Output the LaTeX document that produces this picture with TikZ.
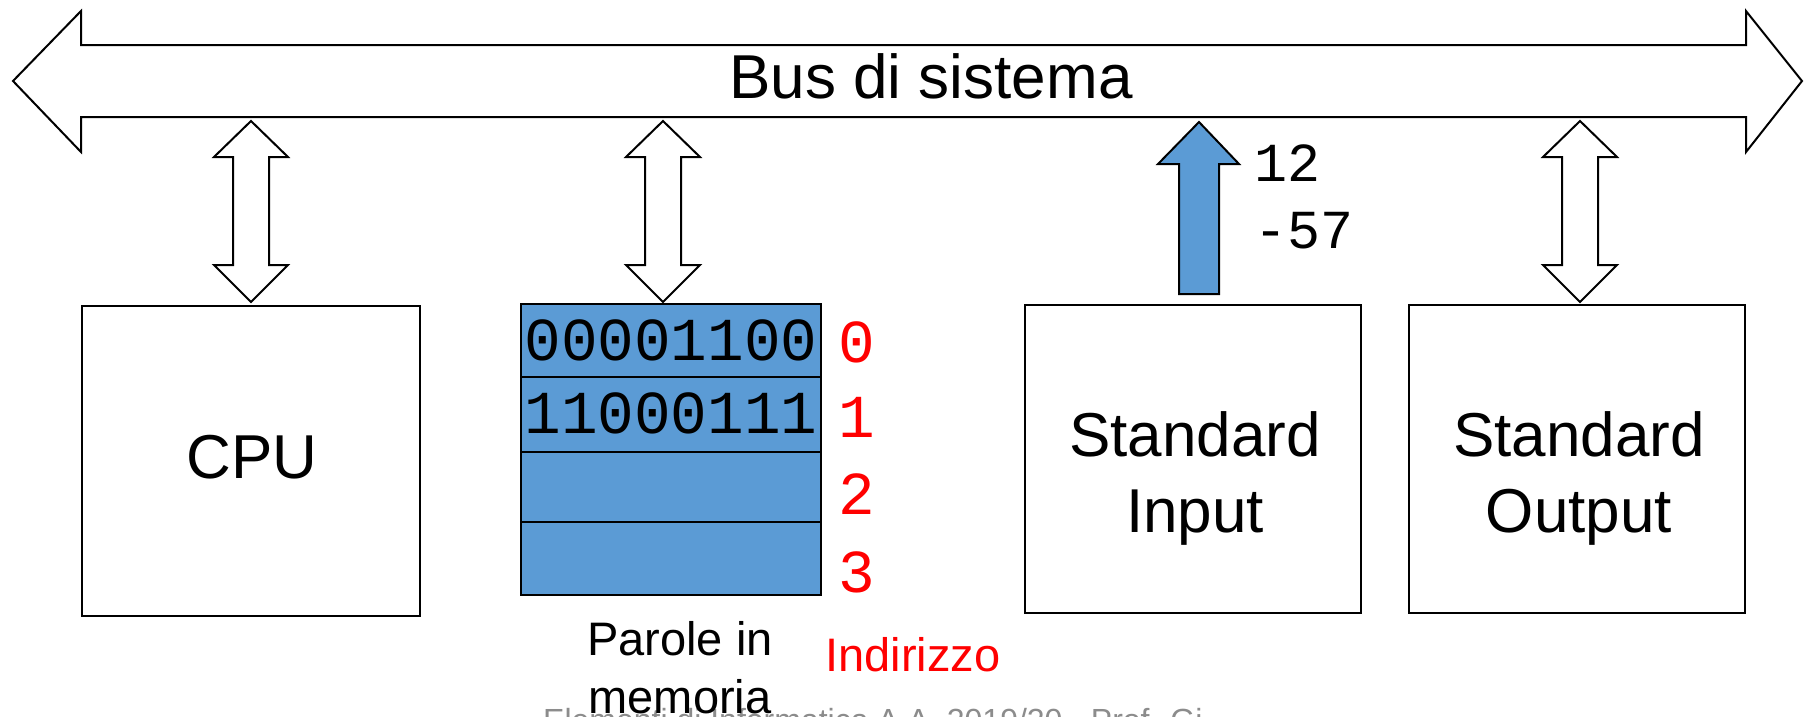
\documentclass[tikz,border=0pt]{standalone}
\usepackage{fontspec}
\setmainfont{Liberation Sans}
\newfontfamily\codefont{Liberation Mono}
\usetikzlibrary{calc}
\definecolor{memblue}{RGB}{91,155,213}
\definecolor{addrred}{RGB}{255,0,0}
\definecolor{footgray}{RGB}{140,140,140}

\tikzset{
  outline/.style={draw=black, line width=2pt, line join=miter},
  unitbox/.style={outline, fill=white, inner sep=0pt},
  memrow/.style={outline, fill=memblue, minimum width=300, inner sep=0pt},
  bigtext/.style={inner sep=0pt, font=\fontsize{62}{76}\selectfont},
  smalltext/.style={inner sep=0pt, font=\fontsize{47}{58}\selectfont},
  bits/.style={inner sep=0pt, font=\codefont\fontsize{61}{61}\selectfont},
  addr/.style={inner sep=0pt, text=addrred, font=\codefont\fontsize{61}{61}\selectfont},
  datum/.style={inner sep=0pt, font=\codefont\fontsize{55}{55}\selectfont},
  footer/.style={inner sep=0pt, text=footgray, font=\fontsize{32}{38}\selectfont},
  pics/dblarrow/.style={code={
    \draw[outline, fill=white] (0,0) -- (37,36) -- (18,36) -- (18,144) -- (37,144)
      -- (0,181) -- (-37,144) -- (-18,144) -- (-18,36) -- (-37,36) -- cycle;}},
}

\begin{document}
\begin{tikzpicture}[x=1pt, y=-1pt]
\useasboundingbox (0,0) rectangle (1804,716);

% footer, mostly below the page edge
\node[footer, anchor=base west] (foot) at (543,731) {Elementi di Informatica A.A. 2019/20 - Prof. Gi};

% system bus
\draw[outline, fill=white] (13,81) -- (81,11) -- (81,45) -- (1746,45) -- (1746,11)
  -- (1802,81) -- (1746,152) -- (1746,117) -- (81,117) -- (81,152) -- cycle;
\node[bigtext, anchor=base] (bus) at (931,98) {Bus di sistema};

% units
\node[unitbox, minimum width=338, minimum height=310] (cpu) at (251,461) {};
\node[bigtext] (cpulabel) at (252,457) {CPU};

\node[unitbox, minimum width=336, minimum height=308] (stdin) at (1193,459) {};
\node[bigtext, align=center, anchor=north] (stdinlabel) at (1195,411) {Standard\\Input};

\node[unitbox, minimum width=336, minimum height=308] (stdout) at (1577,459) {};
\node[bigtext, align=center, anchor=north] (stdoutlabel) at (1579,411) {Standard\\Output};

% memory words
\node[memrow, minimum height=73] (w0) at (671,340.5) {};
\node[memrow, minimum height=75] (w1) at (671,414.5) {};
\node[memrow, minimum height=70] (w2) at (671,487) {};
\node[memrow, minimum height=73] (w3) at (671,558.5) {};
\node[bits, anchor=base] (b0) at (671,360) {00001100};
\node[bits, anchor=base] (b1) at (671,433) {11000111};

% addresses
\node[addr, anchor=base] (a0) at (857,362) {0};
\node[addr, anchor=base] (a1) at (857,437) {1};
\node[addr, anchor=base] (a2) at (857,514) {2};
\node[addr, anchor=base] (a3) at (857,592) {3};

\node[smalltext, align=center, anchor=north] (words) at (680,621) {Parole in\\memoria};
\node[smalltext, text=addrred, anchor=base] (addrlabel) at (913,671) {Indirizzo};

% bus connections
\pic at (251,121) {dblarrow};
\pic at (663,121) {dblarrow};
\pic at (1580,121) {dblarrow};

% input stream
\draw[outline, fill=memblue] (1199,122) -- (1239,164) -- (1219,164) -- (1219,294)
  -- (1179,294) -- (1179,164) -- (1158,164) -- cycle;
\node[datum, anchor=base west] (d1) at (1254,181) {12};
\node[datum, anchor=base west] (d2) at (1254,248) {-57};
\end{tikzpicture}
\end{document}
